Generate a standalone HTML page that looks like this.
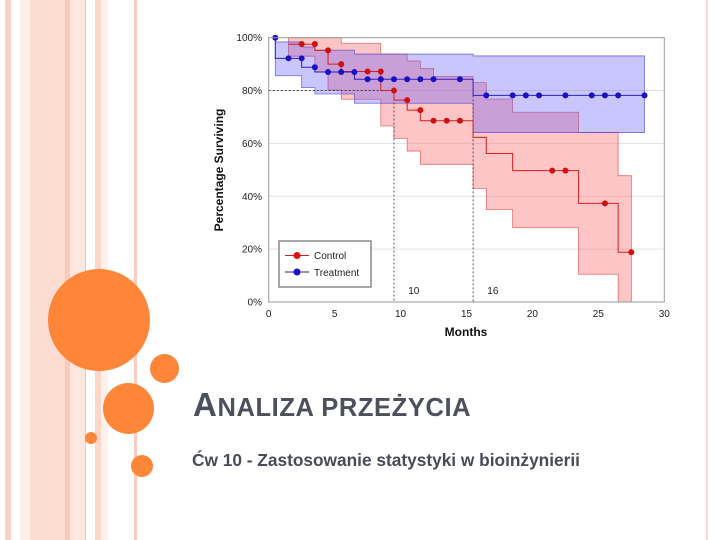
<!DOCTYPE html>
<html><head><meta charset="utf-8"><style>
body{margin:0;width:720px;height:540px;overflow:hidden;background:#fff;position:relative;font-family:"Liberation Sans",sans-serif}
.s{position:absolute;top:0;height:540px}
.c{position:absolute;border-radius:50%;background:#fd8638}
#title{position:absolute;left:193px;top:386px;font-size:33px;font-weight:bold;color:#4b505c;letter-spacing:0.6px;white-space:nowrap}
#title small{font-size:25.5px}
#sub{position:absolute;left:192px;top:450px;font-size:17.3px;font-weight:bold;color:#474c58;white-space:nowrap;font-family:"Liberation Sans","DejaVu Sans",sans-serif}
svg{position:absolute;left:0;top:0}
</style></head><body>
<div class="s" style="left:5px;width:6px;background:#fbd3c6"></div>
<div class="s" style="left:20px;width:10px;background:#fdeee8"></div>
<div class="s" style="left:30px;width:35px;background:#fcdcd0"></div>
<div class="s" style="left:65px;width:5px;background:#fbc9b8"></div>
<div class="s" style="left:70px;width:15px;background:#fde8df"></div>
<div class="s" style="left:85px;width:1px;background:#f6c2b0"></div>
<div class="s" style="left:95px;width:6px;background:#fcd6c8"></div>
<div class="s" style="left:101px;width:7px;background:#fef0ea"></div>
<div class="s" style="left:134px;width:3px;background:#fbcfc0"></div>
<div class="s" style="left:706px;width:2px;background:#fbd8cc"></div>
<div class="c" style="left:48px;top:269px;width:102px;height:102px"></div>
<div class="c" style="left:150px;top:354px;width:29px;height:29px"></div>
<div class="c" style="left:103px;top:383px;width:51px;height:51px"></div>
<div class="c" style="left:85px;top:432px;width:12px;height:12px"></div>
<div class="c" style="left:131px;top:455px;width:22px;height:22px"></div>
<div id="title">A<small>NALIZA PRZEŻYCIA</small></div>
<div id="sub">Ćw 10 - Zastosowanie statystyki w bioinżynierii</div>
<svg id="ch" width="720" height="540"></svg>
<script>
// Control (red)
const ctrlSteps=[[1.5,97.5],[3.5,95.2],[4.5,90],[5.5,87.2],[8.5,80],[9.5,76.4],[10.5,72.6],[11.5,68.6],[15.5,62.3],[16.5,56.2],[18.5,49.7],[23.5,37.3],[26.5,18.8],[27.5,18.8]];
const ctrlPts=[[2.5,97.6],[3.5,97.6],[4.5,95.2],[5.5,90],[7.5,87.2],[8.5,87.2],[9.5,80],[10.5,76.4],[11.5,72.6],[12.5,68.6],[13.5,68.6],[14.5,68.6],[21.5,49.7],[22.5,49.7],[25.5,37.3],[27.5,18.8]];
const ctrlUpper=[[1.5,100],[5.5,97.9],[8.5,93.8],[10.5,91.2],[11.5,88.4],[12.5,85.3],[15.5,83],[16.5,76.8],[18.5,71.8],[23.5,64.1],[26.5,47.8],[27.5,47.8]];
const ctrlLower=[[1.5,93],[3.5,87],[4.5,80.2],[5.5,76.7],[8.5,66.6],[9.5,61.9],[10.5,57.1],[11.5,52.1],[15.5,43],[16.5,35],[18.5,28.1],[23.5,10.5],[26.5,0],[27.5,0]];
// Treatment (blue)
const trtSteps=[[0.5,100],[0.5,92.2],[2.5,88.8],[3.5,87],[6.5,84.3],[15.5,78.2],[28.5,78.2]];
const trtPts=[[0.5,100],[1.5,92.2],[2.5,92.2],[3.5,88.8],[4.5,87],[5.5,87],[6.5,87],[7.5,84.3],[8.5,84.3],[9.5,84.3],[10.5,84.3],[11.5,84.3],[12.5,84.3],[14.5,84.3],[16.5,78.2],[18.5,78.2],[19.5,78.2],[20.5,78.2],[22.5,78.2],[24.5,78.2],[25.5,78.2],[26.5,78.2],[28.5,78.2]];
const trtUpper=[[0.5,98.4],[2.5,96.5],[3.5,95.3],[6.5,93.8],[15.5,93.1],[28.5,93.1]];
const trtLower=[[0.5,85.6],[2.5,81.1],[3.5,78.7],[6.5,75.2],[15.5,64.1],[28.5,64.1]];
const xTicks=[0,5,10,15,20,25,30];
const yTicks=[0,20,40,60,80,100];

const X=t=>268.7+t*(664.3-268.7)/30, Y=v=>302-v*(302-37.7)/100;
const svg=document.getElementById('ch'),NS='http://www.w3.org/2000/svg';
function mk(tag,at,parent){const e=document.createElementNS(NS,tag);for(const k in at)e.setAttribute(k,at[k]);(parent||svg).appendChild(e);return e;}
function stepPath(st){let d='M'+X(st[0][0])+' '+Y(st[0][1]);for(let i=1;i<st.length;i++){d+=' H'+X(st[i][0])+' V'+Y(st[i][1]);}return d;}
function band(up,lo){let d=stepPath(up);for(let i=lo.length-1;i>=0;i--){const p=lo[i];d+=' L'+X(p[0])+' '+Y(p[1]);if(i>0)d+=' L'+X(p[0])+' '+Y(lo[i-1][1]);}return d+'Z';}
yTicks.forEach(v=>{if(v>0&&v<100){const g=mk('line',{x1:X(0),x2:X(30),y1:Y(v),y2:Y(v),stroke:'#e2e2e2','stroke-width':1});

}
const t=mk('text',{x:262,y:Y(v)+3.5,'font-size':10,'text-anchor':'end',fill:'#222'});t.textContent=v+'%';

});
xTicks.forEach(v=>{const t=mk('text',{x:X(v),y:317,'font-size':10,'text-anchor':'middle',fill:'#222'});t.textContent=v;

});
const rb=mk('path',{d:band(ctrlUpper,ctrlLower),fill:'rgba(250,90,90,0.35)',stroke:'rgba(220,60,60,0.7)','stroke-width':0.8});


const bb=mk('path',{d:band(trtUpper,trtLower),fill:'rgba(100,90,250,0.35)',stroke:'rgba(70,60,200,0.7)','stroke-width':0.8});


mk('path',{d:'M'+X(0)+' '+Y(80)+' H'+X(9.5)+' M'+X(9.5)+' '+Y(80)+' V'+Y(0)+' M'+X(15.5)+' '+Y(78.2)+' V'+Y(0),stroke:'#333','stroke-width':0.8,'stroke-dasharray':'2,2',fill:'none'});
[[10,'10',11],[16,'16',17]].forEach(a=>{const t=mk('text',{x:X(a[2]),y:294,'font-size':10,'text-anchor':'middle',fill:'#222'});t.textContent=a[1];

});
const rl=mk('path',{d:stepPath(ctrlSteps),stroke:'#d02020','stroke-width':1,fill:'none'});


const bl=mk('path',{d:stepPath(trtSteps),stroke:'#2a20c0','stroke-width':1,fill:'none'});


ctrlPts.forEach(p=>{const c=mk('circle',{cx:X(p[0]),cy:Y(p[1]),r:3,fill:'#d01010'});

});
trtPts.forEach(p=>{const c=mk('circle',{cx:X(p[0]),cy:Y(p[1]),r:3,fill:'#1a10c0'});

});
mk('rect',{x:X(0),y:Y(100),width:X(30)-X(0),height:Y(0)-Y(100),fill:'none',stroke:'#999','stroke-width':1});
const lg=mk('g',{});
mk('rect',{x:279,y:241,width:92,height:46,fill:'#fff',stroke:'#888','stroke-width':1.5},lg);
mk('line',{x1:285,x2:309,y1:255.5,y2:255.5,stroke:'#d02020'},lg);mk('circle',{cx:297,cy:255.5,r:3.5,fill:'#e01010'},lg);
mk('line',{x1:285,x2:309,y1:272,y2:272,stroke:'#2a20c0'},lg);mk('circle',{cx:297,cy:272,r:3.5,fill:'#1a10d0'},lg);
let t=mk('text',{x:314,y:259,'font-size':10,fill:'#222'},lg);t.textContent='Control';
t=mk('text',{x:314,y:276,'font-size':10,fill:'#222'},lg);t.textContent='Treatment';
t=mk('text',{x:466,y:336,'font-size':12,'font-weight':'bold','text-anchor':'middle',fill:'#111'});t.textContent='Months';

t=mk('text',{x:223,y:170,'font-size':12,'font-weight':'bold','text-anchor':'middle',fill:'#111',transform:'rotate(-90 223 170)'});t.textContent='Percentage Surviving';

</script>
</body></html>
